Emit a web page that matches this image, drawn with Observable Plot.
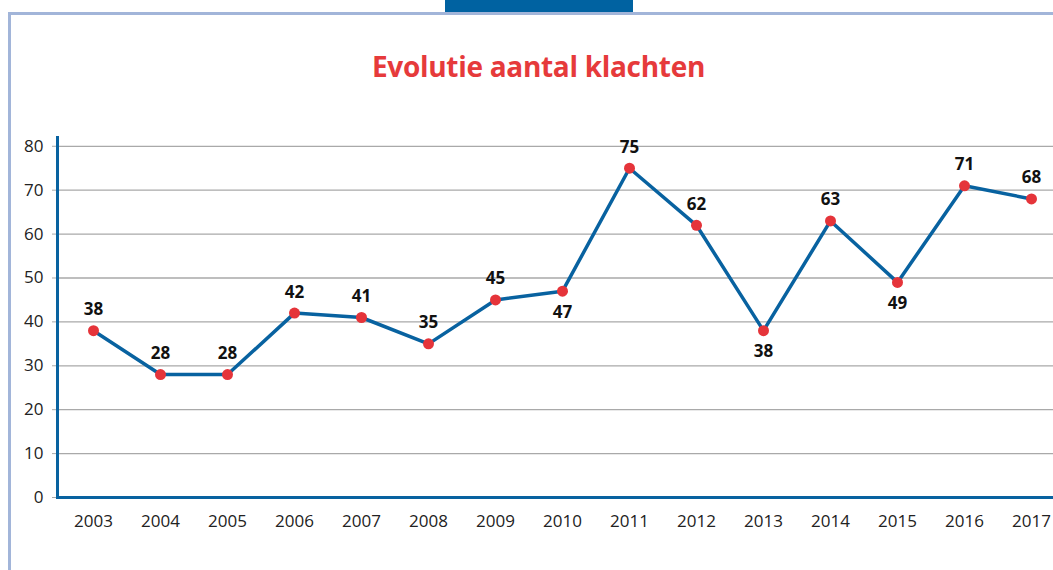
<!DOCTYPE html>
<html>
<head>
<meta charset="utf-8">
<script src="https://cdn.jsdelivr.net/npm/d3@7"></script>
<script src="https://cdn.jsdelivr.net/npm/@observablehq/plot@0.6"></script>
<style>
  html, body { margin: 0; padding: 0; background: #fff; overflow: hidden; width: 1053px; height: 570px; }
  #frame { position: absolute; left: 8px; top: 12px; right: 0; bottom: 0;
           border-left: 3px solid #a2b5d9; border-top: 3px solid #a2b5d9; }
  #tab { position: absolute; left: 445px; top: 0; width: 188px; height: 12px; background: #0062a1; }
  #title { position: absolute; left: 0; top: 47px; width: 1077px; text-align: center;
           font-family: "Open Sans", sans-serif; font-weight: 700; font-size: 28px; color: #e63a3b;
           letter-spacing: -0.3px; }
  #chart { position: absolute; left: 0; top: 110px; }
</style>
</head>
<body>
<div id="frame"></div>
<div id="tab"></div>
<div id="title">Evolutie aantal klachten</div>
<div id="chart"></div>
<script>
const years = ["2003","2004","2005","2006","2007","2008","2009","2010","2011","2012","2013","2014","2015","2016","2017"];
const complaints = [38, 28, 28, 42, 41, 35, 45, 47, 75, 62, 38, 63, 49, 71, 68];
const yTicks = [0, 10, 20, 30, 40, 50, 60, 70, 80];
const labelsBelow = ["2010", "2013", "2015"];

const data = years.map((y, i) => ({year: y, value: complaints[i]}));
const blue = "#0862a0";
const red = "#e5343a";

const chart = Plot.plot({
  width: 1053,
  height: 460,
  marginLeft: 57,
  marginRight: 0,
  marginTop: 27,
  marginBottom: 73,
  style: {fontFamily: "'Open Sans', sans-serif", fontSize: "17px", color: "#222", background: "transparent"},
  x: {type: "point", domain: years, range: [91, 1033], padding: 0, label: null},
  y: {domain: [0, 82], label: null},
  marks: [
    Plot.ruleY(yTicks.filter(d => d > 0), {stroke: "#a9a9a9", strokeWidth: 1.3, strokeOpacity: 1}),
    Plot.axisY(yTicks, {tickSize: 5, tickPadding: 9, stroke: "#a9a9a9", fontSize: 17, fill: "#222", label: null}),
    Plot.axisX(years, {tickSize: 0, tickPadding: 17, fontSize: 17, fill: "#222", label: null}),
    Plot.frame({anchor: "left", stroke: blue, strokeWidth: 3}),
    Plot.ruleY([0], {stroke: blue, strokeWidth: 3}),
    Plot.line(data, {x: "year", y: "value", stroke: blue, strokeWidth: 3.5}),
    Plot.dot(data, {x: "year", y: "value", r: 5.5, fill: red, stroke: null}),
    Plot.text(data.filter(d => !labelsBelow.includes(d.year)), {x: "year", y: "value", text: d => String(d.value), dy: -21, fontWeight: 700, fontSize: 17, fill: "#111"}),
    Plot.text(data.filter(d => labelsBelow.includes(d.year)), {x: "year", y: "value", text: d => String(d.value), dy: 21, fontWeight: 700, fontSize: 17, fill: "#111"})
  ]
});
document.getElementById("chart").appendChild(chart);
</script>
</body>
</html>
